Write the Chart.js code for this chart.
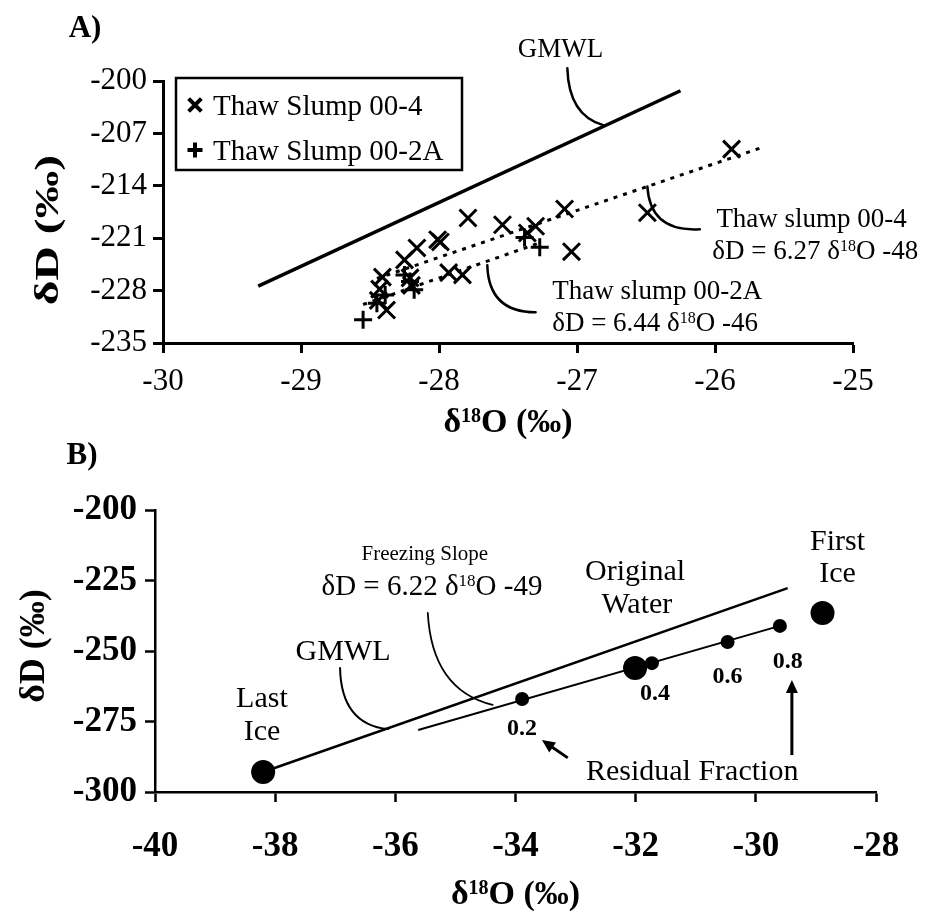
<!DOCTYPE html>
<html>
<head>
<meta charset="utf-8">
<script src="https://cdn.jsdelivr.net/npm/chart.js@4.4.1/dist/chart.umd.min.js"></script>
<style>
  html, body { margin: 0; padding: 0; background: #fff; }
  #wrap { position: relative; width: 925px; height: 920px; overflow: hidden; }
  canvas { position: absolute; left: 0; }
  #ca { top: 0; }
  #cb { top: 430px; }
</style>
</head>
<body>
<div id="wrap">
  <canvas id="ca" width="925" height="460"></canvas>
  <canvas id="cb" width="925" height="490"></canvas>
</div>
<script>
// ---------- Panel A: thaw slump ground ice ----------
const slump004X = [-25.88, -26.49, -27.09, -27.04, -27.30, -27.36, -27.54, -27.79, -28.01, -27.99,
                   -28.16, -28.25, -27.93, -27.83, -28.21, -28.20, -28.41, -28.43, -28.38, -28.44];
const slump004Y = [-209.1, -217.6, -217.1, -222.8, -219.4, -220.3, -219.2, -218.3, -221.2, -221.5,
                   -222.3, -223.9, -225.6, -225.9, -226.3, -227.3, -226.2, -227.8, -230.6, -229.3];
const slump002aX = [-28.55, -28.45, -28.39, -28.21, -28.18, -28.25, -27.27, -27.38];
const slump002aY = [-231.9, -229.7, -228.6, -226.8, -227.9, -225.9, -222.2, -220.9];
const gmwlAX = [-29.31, -26.25];
const gmwlAY = [-227.4, -201.3];
// regression lines as printed: dD = slope * d18O + intercept
const fitSlope = [6.27, 6.44];
const fitIntercept = [-48, -46];
const fitFromX = [-28.45, -28.55];
const fitToX = [-25.67, -27.25];
const xTicksA = [-30, -29, -28, -27, -26, -25];
const yTicksA = [-235, -228, -221, -214, -207, -200];

// ---------- Panel B: closed-system freezing ----------
const lastIce = [-38.2, -292.9];
const firstIce = [-28.89, -236.5];
const originalWater = [-32.01, -256.0];
const residualFraction = ['0.2', '0.4', '0.6', '0.8'];
const residualX = [-33.89, -31.73, -30.47, -29.6];
const residualY = [-267.0, -254.3, -246.8, -241.1];
const gmwlBX = [-38.2, -29.47];
const gmwlBY = [-292.9, -227.7];
const freezeX = [-35.62, -29.6];
const freezeY = [-278.0, -241.1];
const xTicksB = [-40, -38, -36, -34, -32, -30, -28];
const yTicksB = [-300, -275, -250, -225, -200];

const FONT = '"Liberation Serif", "Times New Roman", serif';
const zip = (xs, ys) => xs.map((x, i) => ({ x, y: ys[i] }));
const fitLine = i => [fitFromX[i], fitToX[i]].map(x => ({ x, y: fitSlope[i] * x + fitIntercept[i] }));

// draws a run of text; entries given as [string, isSuperscript]
function drawText(ctx, runs, x, y, o) {
  const size = o.size, weight = o.weight || 'normal';
  const supSize = Math.round(size * 0.6);
  let total = 0;
  const parts = runs.map(r => {
    const t = Array.isArray(r) ? r[0] : r;
    const sup = Array.isArray(r) ? !!r[1] : false;
    ctx.font = `${weight} ${sup ? supSize : size}px ${FONT}`;
    const w = ctx.measureText(t).width;
    total += w;
    return { t, sup, w };
  });
  ctx.save();
  ctx.translate(x, y);
  if (o.rotate) ctx.rotate(o.rotate);
  ctx.scale(o.sx || 1, 1);
  let cx = o.align === 'left' ? 0 : o.align === 'right' ? -total : -total / 2;
  const base = size * 0.33;
  ctx.fillStyle = '#000';
  ctx.textAlign = 'left';
  ctx.textBaseline = 'alphabetic';
  for (const p of parts) {
    ctx.font = `${weight} ${p.sup ? supSize : size}px ${FONT}`;
    ctx.fillText(p.t, cx, p.sup ? base - size * 0.3 : base);
    cx += p.w;
  }
  ctx.restore();
}

function leader(ctx, x0, y0, cx, cy, x1, y1, lw) {
  ctx.save();
  ctx.lineWidth = lw;
  ctx.strokeStyle = '#000';
  ctx.lineCap = 'round';
  ctx.beginPath();
  ctx.moveTo(x0, y0);
  ctx.quadraticCurveTo(cx, cy, x1, y1);
  ctx.stroke();
  ctx.restore();
}

function arrow(ctx, x0, y0, x1, y1, lw) {
  const a = Math.atan2(y1 - y0, x1 - x0), len = 13, half = 6;
  ctx.save();
  ctx.strokeStyle = '#000';
  ctx.fillStyle = '#000';
  ctx.lineWidth = lw;
  ctx.beginPath();
  ctx.moveTo(x0, y0);
  ctx.lineTo(x1 - Math.cos(a) * len * 0.8, y1 - Math.sin(a) * len * 0.8);
  ctx.stroke();
  ctx.beginPath();
  ctx.moveTo(x1, y1);
  ctx.lineTo(x1 - Math.cos(a) * len - Math.sin(a) * half, y1 - Math.sin(a) * len + Math.cos(a) * half);
  ctx.lineTo(x1 - Math.cos(a) * len + Math.sin(a) * half, y1 - Math.sin(a) * len - Math.cos(a) * half);
  ctx.closePath();
  ctx.fill();
  ctx.restore();
}

function axisScale(ticks, min, max, side, size, opts) {
  return {
    type: 'linear',
    min, max,
    afterBuildTicks: s => { s.ticks = ticks.map(v => ({ value: v })); },
    afterFit: s => { if (side === 'x') s.height = size; else s.width = size; },
    grid: { display: true, drawOnChartArea: false, drawTicks: true, tickLength: 10, tickWidth: opts.w, tickColor: '#000' },
    border: { display: true, color: '#000', width: opts.w },
    ticks: { color: '#000', padding: opts.pad, font: { family: FONT, size: opts.font, weight: opts.weight } }
  };
}

// ---------- annotations for panel A ----------
const annotA = {
  id: 'annotA',
  afterDatasetsDraw(chart) {
    const { ctx, chartArea } = chart;
    const X = v => chart.scales.x.getPixelForValue(v);
    const Y = v => chart.scales.y.getPixelForValue(v);

    // leader lines
    leader(ctx, X(-27.07), Y(-198.3), X(-27.06), Y(-204.6), X(-26.81), Y(-205.9), 2.5);
    leader(ctx, X(-26.49), Y(-214.1), X(-26.47), Y(-220.2), X(-26.11), Y(-219.8), 2.5);
    leader(ctx, X(-27.65), Y(-224.6), X(-27.64), Y(-230.9), X(-27.30), Y(-230.9), 2.5);

    // labels
    drawText(ctx, ['GMWL'], X(-27.12), Y(-195.6), { size: 27 });
    drawText(ctx, ['Thaw slump 00-4'], X(-25.99), Y(-218.3), { size: 27, align: 'left' });
    drawText(ctx, ['δD = ' + fitSlope[0] + ' δ', ['18', true], 'O ' + fitIntercept[0]], X(-26.02), Y(-222.6), { size: 27, align: 'left' });
    drawText(ctx, ['Thaw slump 00-2A'], X(-27.18), Y(-227.9), { size: 27, align: 'left' });
    drawText(ctx, ['δD = ' + fitSlope[1] + ' δ', ['18', true], 'O ' + fitIntercept[1]], X(-27.18), Y(-232.2), { size: 27, align: 'left' });

    // legend box
    const lx = 176, ly = 78, lw = 286, lh = 92;
    ctx.save();
    ctx.lineWidth = 2.5;
    ctx.strokeStyle = '#000';
    ctx.strokeRect(lx, ly, lw, lh);
    const ds = chart.data.datasets;
    [0, 1].forEach((i, k) => {
      const cy = ly + 27 + k * 45;
      ctx.strokeStyle = '#000';
      ctx.fillStyle = '#000';
      ctx.lineWidth = 4;
      Chart.helpers.drawPoint(ctx, { pointStyle: ds[i].pointStyle, radius: i === 0 ? 9 : 7.5, borderWidth: 4 }, lx + 19, cy);
      drawText(ctx, [ds[i].label], lx + 37, cy, { size: 29, align: 'left' });
    });
    ctx.restore();

    // panel letter and axis titles
    drawText(ctx, ['A)'], 85, 27, { size: 31, weight: 'bold' });
    drawText(ctx, ['δ', ['18', true], 'O (‰)'], (chartArea.left + chartArea.right) / 2, chartArea.bottom + 78, { size: 34, weight: 'bold' });
    drawText(ctx, ['δD (‰)'], 47, 230, { size: 34, weight: 'bold', rotate: -Math.PI / 2, sx: 1.4 });
  }
};

// ---------- annotations for panel B ----------
const annotB = {
  id: 'annotB',
  afterDatasetsDraw(chart) {
    const { ctx, chartArea } = chart;
    const X = v => chart.scales.x.getPixelForValue(v);
    const Y = v => chart.scales.y.getPixelForValue(v);

    leader(ctx, X(-36.92), Y(-256.0), X(-36.9), Y(-276.0), X(-36.12), Y(-277.7), 2);
    leader(ctx, X(-35.46), Y(-236.5), X(-35.39), Y(-263.8), X(-34.38), Y(-269.1), 1.8);

    drawText(ctx, ['First'], X(-28.64), Y(-210.6), { size: 30 });
    drawText(ctx, ['Ice'], X(-28.64), Y(-222.0), { size: 30 });
    drawText(ctx, ['Original'], X(-32.01), Y(-221.3), { size: 30 });
    drawText(ctx, ['Water'], X(-31.98), Y(-233.0), { size: 30 });
    drawText(ctx, ['Last'], X(-38.22), Y(-266.3), { size: 30 });
    drawText(ctx, ['Ice'], X(-38.22), Y(-278.0), { size: 30 });
    drawText(ctx, ['GMWL'], X(-36.87), Y(-249.6), { size: 30 });
    drawText(ctx, ['Freezing Slope'], X(-35.51), Y(-215.2), { size: 21 });
    drawText(ctx, ['δD = 6.22 δ', ['18', true], 'O -49'], X(-35.39), Y(-226.6), { size: 29 });
    drawText(ctx, ['Residual Fraction'], X(-31.06), Y(-292.2), { size: 30 });

    const dx = [0, 3, 0, 8], dy = [28, 29, 33, 34];
    residualFraction.forEach((f, i) => {
      drawText(ctx, [f], X(residualX[i]) + dx[i], Y(residualY[i]) + dy[i], { size: 24, weight: 'bold' });
    });

    arrow(ctx, X(-33.13), Y(-287.9), X(-33.56), Y(-281.6), 3);
    arrow(ctx, X(-29.40), Y(-286.9), X(-29.40), Y(-260.3), 3);

    drawText(ctx, ['B)'], 82, 24, { size: 31, weight: 'bold' });
    drawText(ctx, ['δ', ['18', true], 'O (‰)'], (chartArea.left + chartArea.right) / 2, chartArea.bottom + 101, { size: 34, weight: 'bold' });
    drawText(ctx, ['δD (‰)'], 32, 216, { size: 36, weight: 'bold', rotate: -Math.PI / 2 });
  }
};

const common = {
  responsive: false,
  animation: false,
  devicePixelRatio: 1,
  plugins: { legend: { display: false }, tooltip: { enabled: false } }
};

new Chart(document.getElementById('ca'), {
  type: 'scatter',
  data: {
    datasets: [
      { label: 'Thaw Slump 00-4', data: zip(slump004X, slump004Y), pointStyle: 'crossRot', pointRadius: 12,
        pointBorderWidth: 3, borderColor: '#000', backgroundColor: '#000', clip: false, order: 1 },
      { label: 'Thaw Slump 00-2A', data: zip(slump002aX, slump002aY), pointStyle: 'cross', pointRadius: 9,
        pointBorderWidth: 3, borderColor: '#000', backgroundColor: '#000', clip: false, order: 1 },
      { label: 'GMWL', data: zip(gmwlAX, gmwlAY), showLine: true, borderWidth: 3.5, borderColor: '#000',
        pointRadius: 0, clip: false, order: 2 },
      { label: 'Thaw slump 00-4 fit', data: fitLine(0), showLine: true, borderWidth: 3, borderDash: [4, 6],
        borderColor: '#000', pointRadius: 0, clip: false, order: 2 },
      { label: 'Thaw slump 00-2A fit', data: fitLine(1), showLine: true, borderWidth: 3, borderDash: [4, 6],
        borderColor: '#000', pointRadius: 0, clip: false, order: 2 }
    ]
  },
  options: Object.assign({}, common, {
    layout: { padding: { top: 81, right: 72, left: 0, bottom: 0 } },
    scales: {
      x: axisScale(xTicksA, -30, -25, 'x', 117, { w: 3, pad: 10, font: 31, weight: 'normal' }),
      y: axisScale(yTicksA, -235, -200, 'y', 163, { w: 3, pad: 6, font: 31, weight: 'normal' })
    }
  }),
  plugins: [annotA]
});

new Chart(document.getElementById('cb'), {
  type: 'scatter',
  data: {
    datasets: [
      { label: 'Last Ice', data: [{ x: lastIce[0], y: lastIce[1] }], pointStyle: 'circle', pointRadius: 12,
        pointBorderWidth: 0, backgroundColor: '#000', clip: false, order: 1 },
      { label: 'First Ice', data: [{ x: firstIce[0], y: firstIce[1] }], pointStyle: 'circle', pointRadius: 12,
        pointBorderWidth: 0, backgroundColor: '#000', clip: false, order: 1 },
      { label: 'Original Water', data: [{ x: originalWater[0], y: originalWater[1] }], pointStyle: 'circle', pointRadius: 12,
        pointBorderWidth: 0, backgroundColor: '#000', clip: false, order: 1 },
      { label: 'Residual Fraction', data: zip(residualX, residualY), pointStyle: 'circle', pointRadius: 7,
        pointBorderWidth: 0, backgroundColor: '#000', clip: false, order: 1 },
      { label: 'GMWL', data: zip(gmwlBX, gmwlBY), showLine: true, borderWidth: 2.6, borderColor: '#000',
        pointRadius: 0, clip: false, order: 2 },
      { label: 'Freezing Slope', data: zip(freezeX, freezeY), showLine: true, borderWidth: 2, borderColor: '#000',
        pointRadius: 0, clip: false, order: 2 }
    ]
  },
  options: Object.assign({}, common, {
    layout: { padding: { top: 80, right: 49, left: 0, bottom: 0 } },
    scales: {
      x: axisScale(xTicksB, -40, -28, 'x', 128, { w: 2.5, pad: 24, font: 35, weight: 'bold' }),
      y: axisScale(yTicksB, -300, -200, 'y', 155, { w: 2.5, pad: 8, font: 35, weight: 'bold' })
    }
  }),
  plugins: [annotB]
});
</script>
</body>
</html>
